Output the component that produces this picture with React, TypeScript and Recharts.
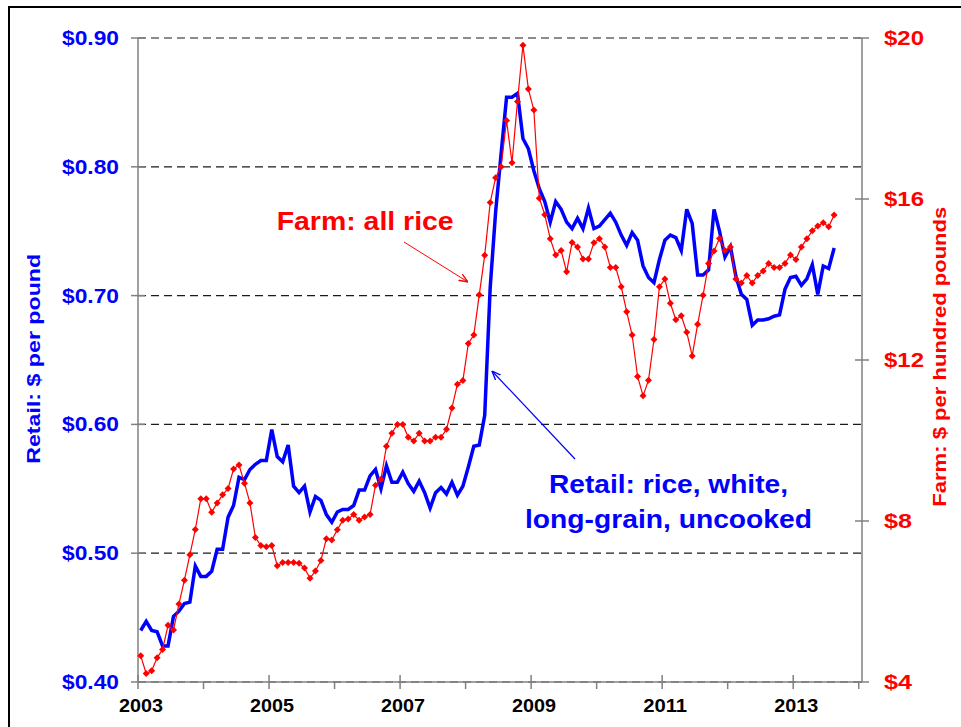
import React from "react";
import { LineChart, Line, XAxis, YAxis, CartesianGrid } from "recharts";

const FONT = '"Liberation Sans", Arial, Helvetica, sans-serif';
const BLUE = "#0000ff";
const RED = "#ff0000";
const AXIS = "#808080";

// monthly prices, Jan 2003 - Aug 2013
// retail: rice, white, long-grain, uncooked ($ per pound)
const retail = [
  0.44, 0.447, 0.44, 0.439, 0.428, 0.428, 0.451, 0.455, 0.461, 0.462, 0.49, 0.482,
  0.482, 0.486, 0.503, 0.503, 0.528, 0.537, 0.559, 0.557, 0.565, 0.569, 0.572, 0.572,
  0.596, 0.575, 0.571, 0.584, 0.552, 0.547, 0.552, 0.532, 0.544, 0.541, 0.53, 0.524,
  0.532, 0.534, 0.534, 0.537, 0.549, 0.549, 0.56, 0.565, 0.55, 0.568, 0.555, 0.555,
  0.563, 0.554, 0.548, 0.556, 0.547, 0.535, 0.547, 0.551, 0.546, 0.555, 0.545, 0.552,
  0.567, 0.583, 0.584, 0.607, 0.706, 0.765, 0.81, 0.854, 0.854, 0.857, 0.822, 0.814,
  0.797, 0.783, 0.773, 0.757, 0.773, 0.767, 0.757, 0.752, 0.76, 0.752, 0.768, 0.752,
  0.754, 0.759, 0.764, 0.757, 0.747, 0.739, 0.749, 0.743, 0.723, 0.714, 0.71, 0.728,
  0.743, 0.747, 0.745, 0.735, 0.767, 0.756, 0.716, 0.716, 0.72, 0.767, 0.75, 0.73,
  0.738, 0.715, 0.701, 0.697, 0.677, 0.681, 0.681, 0.682, 0.684, 0.685, 0.705, 0.714,
  0.715, 0.708, 0.713, 0.724, 0.701, 0.723, 0.721, 0.737,
];

// farm: all rice ($ per hundred pounds)
const farm = [
  4.65, 4.21, 4.28, 4.6, 4.81, 5.41, 5.29, 5.94, 6.53, 7.16, 7.79, 8.55,
  8.55, 8.22, 8.45, 8.65, 8.81, 9.29, 9.39, 8.94, 8.45, 7.59, 7.39, 7.36,
  7.39, 6.89, 6.97, 6.97, 6.97, 6.95, 6.83, 6.58, 6.76, 7.02, 7.56, 7.53,
  7.78, 8.02, 8.05, 8.16, 8.02, 8.1, 8.16, 8.89, 9.04, 9.86, 10.18, 10.4,
  10.4, 10.08, 9.99, 10.18, 9.99, 9.99, 10.08, 10.08, 10.28, 10.81, 11.4, 11.49,
  12.41, 12.62, 13.62, 14.6, 15.91, 16.53, 16.8, 17.95, 16.9, 18.42, 19.82, 18.73,
  18.21, 16.02, 15.61, 15.01, 14.61, 14.72, 14.19, 14.92, 14.81, 14.51, 14.51, 14.91,
  15.01, 14.81, 14.3, 14.3, 13.82, 13.2, 12.62, 11.59, 11.11, 11.5, 12.51, 13.82,
  14.01, 13.41, 13.0, 13.1, 12.69, 12.1, 12.89, 13.61, 14.4, 14.71, 15.02, 14.72,
  14.81, 14.01, 13.91, 14.1, 13.91, 14.1, 14.21, 14.4, 14.3, 14.3, 14.4, 14.61,
  14.5, 14.81, 15.01, 15.21, 15.33, 15.41, 15.31, 15.6,
];

const firstYear = 2003;
const yearTicks = [0, 12, 24, 36, 48, 60, 72, 84, 96, 108, 120, 132];
const labeledYears = ["2003", "2005", "2007", "2009", "2011", "2013"];
const retailTicks = [0.4, 0.5, 0.6, 0.7, 0.8, 0.9];
const farmTicks = [4, 8, 12, 16, 20];

const data = retail.map((r, i) => ({ m: i + 0.5, retail: r, farm: farm[i] }));

const bold = { fontFamily: FONT, fontWeight: 700 } as const;

const LeftTick = (props: any) => {
  const { x, y, payload } = props;
  return (
    <g>
      <line x1={x + 12} x2={x + 26} y1={y} y2={y} stroke={AXIS} strokeWidth={1.5} />
      <text x={x} y={y + 7} textAnchor="end" fontSize={20} fill={BLUE} {...bold}
        textLength={57} lengthAdjust="spacingAndGlyphs">
        {`$${Number(payload.value).toFixed(2)}`}
      </text>
    </g>
  );
};

const RightTick = (props: any) => {
  const { x, y, payload } = props;
  const s = `$${payload.value}`;
  return (
    <g>
      <line x1={x - 29} x2={x - 15} y1={y} y2={y} stroke={AXIS} strokeWidth={1.5} />
      <text x={x} y={y + 7} textAnchor="start" fontSize={20} fill={RED} {...bold}
        textLength={s.length === 3 ? 40 : 28} lengthAdjust="spacingAndGlyphs">
        {s}
      </text>
    </g>
  );
};

const XTick = (props: any) => {
  const { x, y, payload } = props;
  const year = String(firstYear + Math.round(payload.value / 12));
  const major = labeledYears.includes(year);
  return (
    <g>
      <line x1={x} x2={x} y1={major ? y - 7 : y} y2={y + 7} stroke={AXIS} strokeWidth={1.5} />
      {major && (
        <text x={x + 3} y={y + 30} textAnchor="middle" fontSize={19} fill="#000" {...bold}
          textLength={44} lengthAdjust="spacingAndGlyphs">
          {year}
        </text>
      )}
    </g>
  );
};

const diamond = (props: any) => {
  const { cx, cy, index } = props;
  if (cx == null || cy == null) return <g key={`d${index}`} />;
  const s = 3.5;
  return (
    <path key={`d${index}`} d={`M${cx},${cy - s}L${cx + s},${cy}L${cx},${cy + s}L${cx - s},${cy}Z`} fill={RED} />
  );
};

export default function App() {
  return (
    <div style={{ position: "absolute", left: 0, top: 0, width: 961, height: 727, overflow: "hidden", background: "#fff" }}>
      <LineChart width={961} height={727} data={data} margin={{ top: 38, right: 0, bottom: 0, left: 0 }}>
        <CartesianGrid yAxisId="retail" vertical={false} stroke="#1a1a1a" strokeWidth={1.2} strokeDasharray="8 5" />
        <XAxis
          dataKey="m"
          type="number"
          domain={[0, 132.6]}
          ticks={yearTicks}
          interval={0}
          height={45}
          tickSize={0}
          tickMargin={0}
          tickLine={false}
          axisLine={{ stroke: AXIS, strokeWidth: 1.5 }}
          tick={<XTick />}
        />
        <YAxis
          yAxisId="retail"
          domain={[0.4, 0.9]}
          ticks={retailTicks}
          interval={0}
          width={138}
          tickSize={0}
          tickMargin={19}
          tickLine={false}
          axisLine={{ stroke: AXIS, strokeWidth: 1.5 }}
          tick={<LeftTick />}
        />
        <YAxis
          yAxisId="farm"
          orientation="right"
          domain={[4, 20]}
          ticks={farmTicks}
          interval={0}
          width={99}
          tickSize={0}
          tickMargin={22}
          tickLine={false}
          axisLine={{ stroke: AXIS, strokeWidth: 1.5 }}
          tick={<RightTick />}
        />
        <Line
          yAxisId="retail"
          dataKey="retail"
          type="linear"
          stroke={BLUE}
          strokeWidth={3.5}
          dot={false}
          activeDot={false}
          isAnimationActive={false}
        />
        <Line
          yAxisId="farm"
          dataKey="farm"
          type="linear"
          stroke={RED}
          strokeWidth={1.2}
          dot={diamond}
          activeDot={false}
          isAnimationActive={false}
        />
      </LineChart>

      <svg width={961} height={727} style={{ position: "absolute", left: 0, top: 0, pointerEvents: "none" }}>
        <defs>
          <marker id="arRed" viewBox="0 0 10 10" refX="10" refY="5" markerWidth="9" markerHeight="9"
            markerUnits="userSpaceOnUse" orient="auto">
            <path d="M0,1 L10,5 L0,9" fill="none" stroke={RED} strokeWidth={1.5} />
          </marker>
          <marker id="arBlue" viewBox="0 0 10 10" refX="10" refY="5" markerWidth="9" markerHeight="9"
            markerUnits="userSpaceOnUse" orient="auto">
            <path d="M0,1 L10,5 L0,9" fill="none" stroke={BLUE} strokeWidth={1.5} />
          </marker>
        </defs>
        <rect x={9} y={7} width={1200} height={1200} fill="none" stroke="#000" strokeWidth={2} />
        <text transform="translate(39.6,358.8) rotate(-90)" textAnchor="middle" fontSize={19} fill={BLUE} {...bold}
          textLength={210} lengthAdjust="spacingAndGlyphs">
          Retail: $ per pound
        </text>
        <text transform="translate(945.6,356.7) rotate(-90)" textAnchor="middle" fontSize={19} fill={RED} {...bold}
          textLength={300} lengthAdjust="spacingAndGlyphs">
          Farm: $ per hundred pounds
        </text>
        <text x={276.7} y={230} fontSize={25} fill={RED} {...bold} textLength={177} lengthAdjust="spacingAndGlyphs">
          Farm: all rice
        </text>
        <line x1={404} y1={242} x2={468} y2={282} stroke={RED} strokeWidth={1} markerEnd="url(#arRed)" />
        <text x={668.5} y={492.7} textAnchor="middle" fontSize={26} fill={BLUE} {...bold}
          textLength={239} lengthAdjust="spacingAndGlyphs">
          Retail: rice, white,
        </text>
        <text x={668.5} y={528.3} textAnchor="middle" fontSize={26} fill={BLUE} {...bold}
          textLength={287} lengthAdjust="spacingAndGlyphs">
          long-grain, uncooked
        </text>
        <line x1={575} y1={459} x2={492} y2={371} stroke={BLUE} strokeWidth={1.2} markerEnd="url(#arBlue)" />
      </svg>
    </div>
  );
}
